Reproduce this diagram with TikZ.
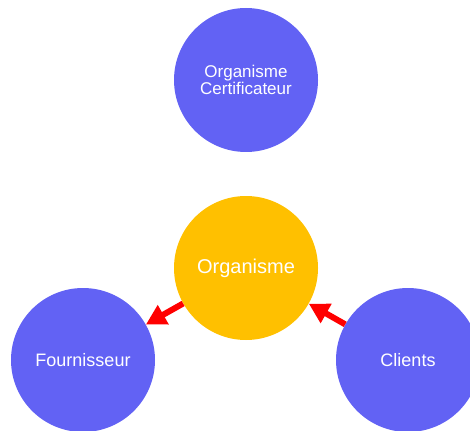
\documentclass[tikz,border=0pt]{standalone}
\usepackage{fontspec}
\setmainfont{Liberation Sans}
\usepackage{tikz}
\usetikzlibrary{arrows.meta}
\definecolor{bleu}{RGB}{98,98,244}
\definecolor{orange}{RGB}{255,192,0}

\begin{document}
\begin{tikzpicture}[line cap=round,line join=round,>={Triangle[length=20pt,width=21pt]},x=1pt,y=1pt,
  rond/.style={circle,minimum size=144pt,inner sep=0pt,text=white,align=center,font=\fontsize{18}{18}\selectfont},
  fleche/.style={->,color=red,line width=6pt,line cap=butt}]

\useasboundingbox (0,0) rectangle (470,-430);
\clip (0,0) rectangle (470,-430);

\node[rond,fill=bleu,font=\fontsize{17}{17}\selectfont] (cert) at (246,-80) {Organisme\\Certificateur};
\node[rond,fill=orange,font=\fontsize{20}{20}\selectfont] (org) at (246,-268) {Organisme};
\node[rond,fill=bleu] (four) at (83,-360) {Fournisseur};
\node[rond,fill=bleu] (cli) at (408,-360) {Clients};

\draw[fleche] (org) -- (four);
\draw[fleche] (cli) -- (org);

\end{tikzpicture}
\end{document}
